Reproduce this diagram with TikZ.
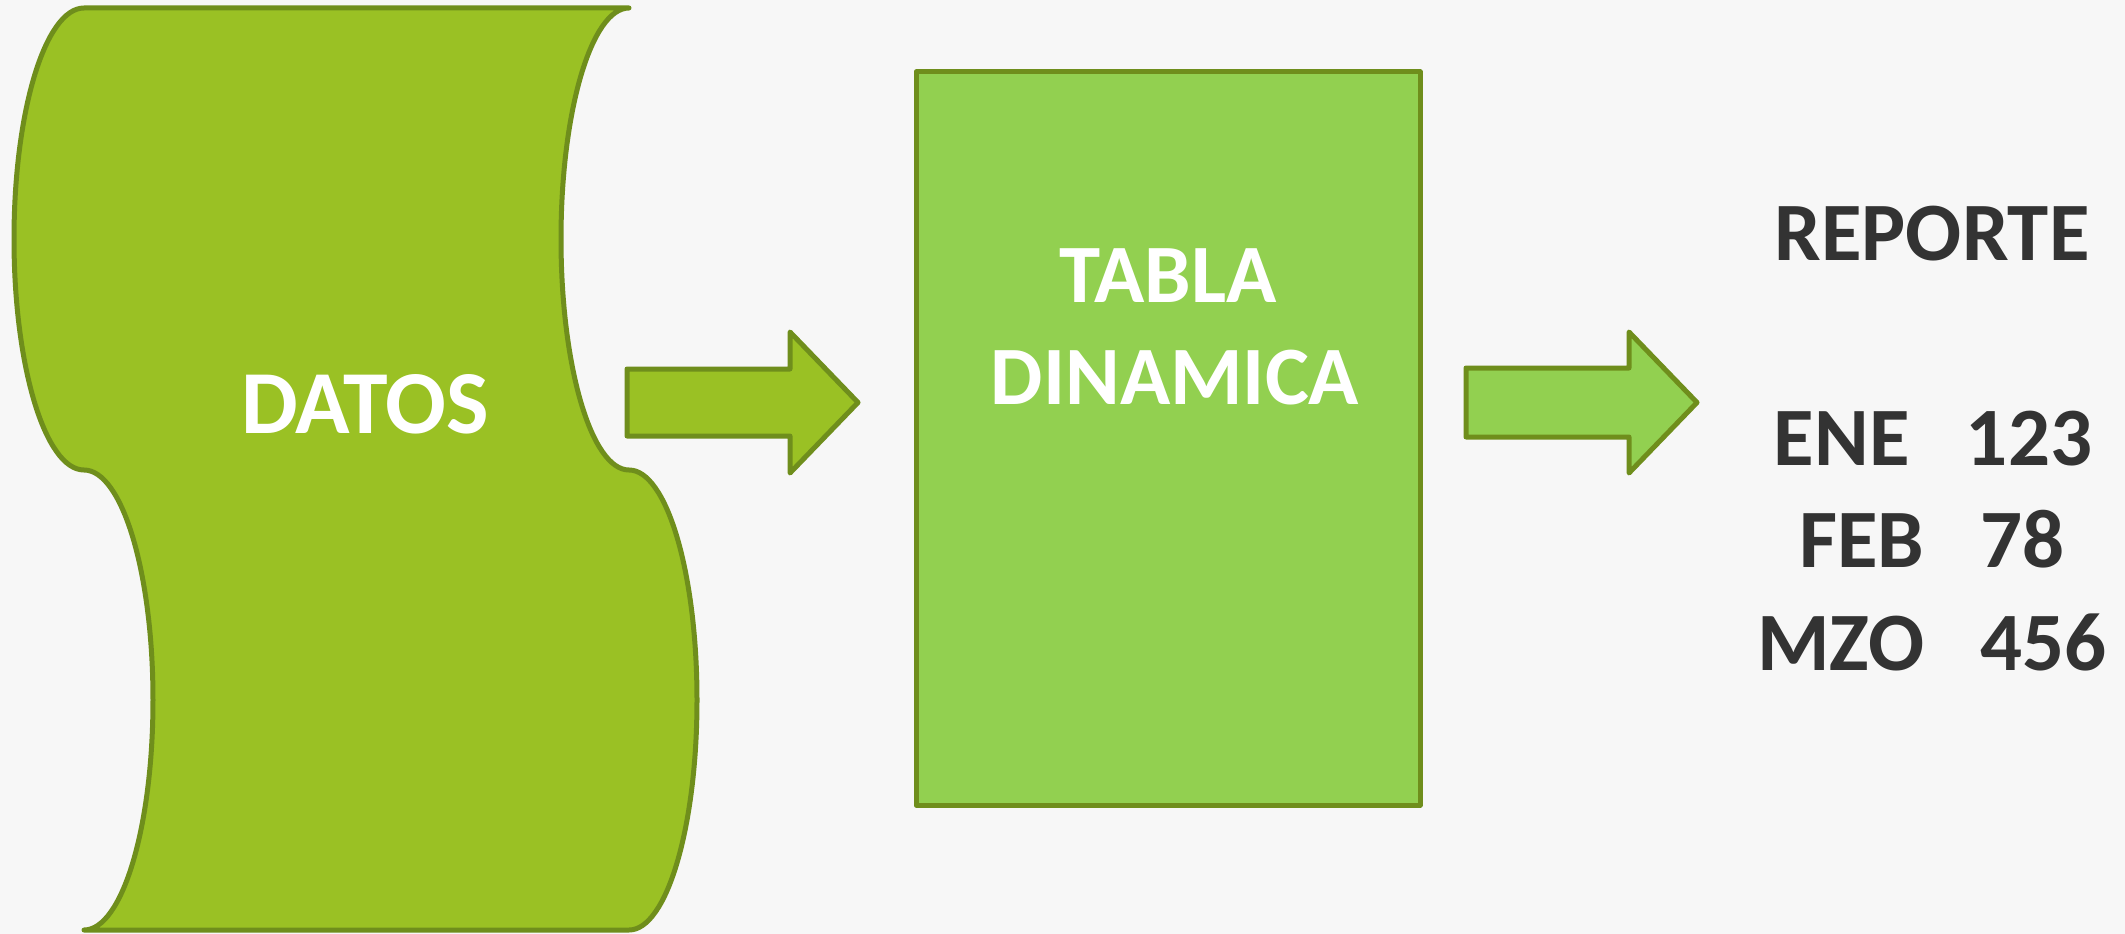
\documentclass[tikz,border=0pt]{standalone}
\usepackage{fontspec}
\setmainfont{Carlito}
\definecolor{bgc}{HTML}{F7F7F7}
\definecolor{olivefill}{HTML}{9AC124}
\definecolor{lightfill}{HTML}{92D050}
\definecolor{edgec}{HTML}{6F8E1C}
\definecolor{darktext}{HTML}{333333}
\tikzset{
  shapeline/.style={draw=edgec, line width=5pt, line join=round},
  whitetxt/.style={anchor=base, inner sep=0pt, text=white},
  reptxt/.style={anchor=base, inner sep=0pt, text=darktext, font=\fontsize{83}{100}\selectfont\bfseries},
}
\begin{document}
\begin{tikzpicture}[x=1pt,y=-1pt]
\fill[bgc] (0,0) rectangle (2125,934);
\useasboundingbox (0,0) rectangle (2125,934);
% scroll (DATOS)
\path[shapeline, fill=olivefill] (84,8) -- (629,8)
  arc[start angle=270, end angle=90, x radius=68, y radius=231]
  arc[start angle=-90, end angle=90, x radius=68, y radius=230]
  -- (84,930)
  arc[start angle=90, end angle=-90, x radius=69, y radius=230]
  arc[start angle=90, end angle=270, x radius=70, y radius=231]
  -- cycle;
\node[whitetxt, font=\fontsize{90}{108}\selectfont\bfseries] (datos) at (365,433) {DATOS};
% arrow 1
\path[shapeline, fill=olivefill] (627,369) -- (790,369) -- (790,332) -- (858,402.5)
  -- (790,473) -- (790,436) -- (627,436) -- cycle;
% pivot table box
\node[shapeline, fill=lightfill, minimum width=504pt, minimum height=733pt, inner sep=0pt] (tabla) at (1168,438.5) {};
\node[whitetxt, font=\fontsize{83}{100}\selectfont\bfseries] (t1) at (1168,302) {TABLA};
\node[whitetxt, font=\fontsize{83}{100}\selectfont\bfseries] (t2) at (1175,404) {DINAMICA};
% arrow 2
\path[shapeline, fill=lightfill] (1466,368) -- (1629,368) -- (1629,332) -- (1697,402.5)
  -- (1629,473) -- (1629,437) -- (1466,437) -- cycle;
% report
\node[reptxt] (rep) at (1932,260) {REPORTE};
\node[reptxt] (ene) at (1933,465) {ENE~~~123};
\node[reptxt] (feb) at (1932,567) {FEB~~~78};
\node[reptxt] (mzo) at (1932,670) {MZO~~~456};
\end{tikzpicture}
\end{document}
